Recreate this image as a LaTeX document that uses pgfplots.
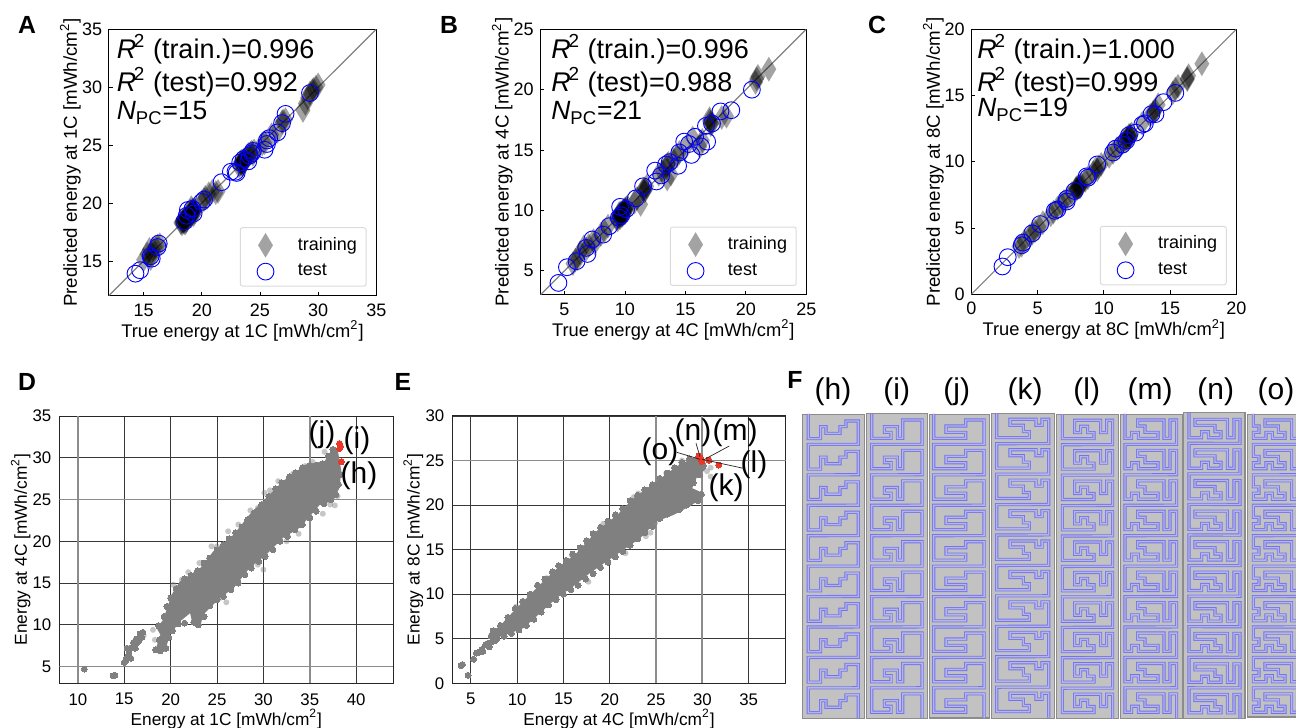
\documentclass[border=0pt]{standalone}
\usepackage{fontspec}
\setmainfont{Liberation Sans}
\usepackage{pgfplots}
\usepackage{pgfplotstable}
\pgfplotsset{compat=1.18}
\definecolor{trace}{RGB}{115,115,242}
\definecolor{tracein}{RGB}{182,182,226}
\definecolor{redpt}{RGB}{235,55,40}
\newcommand\fsz[1]{\fontsize{#1}{#1}\selectfont}
\newcommand\snake[4]{\draw[line width=0.42pt,draw=trace,double=tracein,double distance=0.72pt,line join=miter,line cap=butt] (#1,#2) \foreach \i in {0,...,9}{ -- ({#1},{#2+\i*#3/3}) \foreach \a/\b in {#4}{ -- ({#1+\a/3},{#2+(\i*#3+\b)/3}) } };}
\pgfplotsset{
 top/.style={scale only axis,anchor=south west,
  tick align=inside,xtick pos=bottom,ytick pos=left,major tick length=2pt,
  tick style={black,line width=0.4pt},axis line style={line width=0.5pt},
  /pgf/number format/assume math mode=true,
  tick label style={font=\fsz{9}},
  xticklabel style={yshift=-0.5pt},yticklabel style={xshift=0.2pt},
  x label style={font=\fsz{9.15},at={(axis description cs:0.5,-0.1325)},anchor=center},
  y label style={font=\fsz{9.35},at={(axis description cs:-0.143,0.5)},anchor=center},
  legend cell align=left,
  legend style={font=\fsz{9},draw=black!14,rounded corners=1.2pt,line width=0.5pt,at={(0.964,0.034)},anchor=south east,
    inner xsep=3.6pt,inner ysep=2.6pt,row sep=2.3pt,nodes={inner sep=1pt},
    /tikz/every odd column/.append style={column sep=11pt}},
 },
 train/.style={only marks,mark=diamond*,mark size=6.2pt,mark options={xscale=0.8,fill=black,draw opacity=0,fill opacity=0.36},
   legend image code/.code={\path[draw=none] (-0.5pt,0) -- (0.3cm,0); \path[##1,draw=none] plot coordinates {(0.3cm,0cm)};}},
 test/.style={only marks,mark=o,mark size=4.2pt,mark options={draw=blue,line width=0.45pt,fill=white,fill opacity=0.45},
   legend image code/.code={\path[draw=none] (-0.5pt,0) -- (0.3cm,0); \path[##1,draw=none] plot coordinates {(0.3cm,0cm)};}},
 low/.style={scale only axis,anchor=south west,grid=major,
  major grid style={black!78,line width=0.45pt},axis line style={black!85,line width=0.5pt},
  major tick length=0pt,
  /pgf/number format/assume math mode=true,
  tick label style={font=\fsz{8.4}},
  xticklabel style={yshift=-1.5pt},yticklabel style={xshift=-0.5pt},
  label style={font=\fsz{8.65}},
  x label style={at={(axis description cs:0.5,-0.1336)},anchor=center},
 },
 hl/.style={gray!90,line width=0.9pt,forget plot},
 cloud/.style={fill=gray,draw=none,forget plot},
 edge/.style={only marks,mark=*,mark size=1.5pt,mark options={fill=gray,draw=gray,line width=0pt},forget plot},
 fringe/.style={only marks,mark=*,mark size=1.5pt,mark options={fill=gray,draw opacity=0,fill opacity=0.45},forget plot},
 reds/.style={only marks,mark=*,mark size=1.5pt,mark options={fill=redpt,draw=redpt,line width=0pt},forget plot},
}
% Panel A
\pgfplotstableread{
x y
15 15.1
15.3 15.6
15.5 15.4
15.6 15.2
15.7 15.5
15.8 16
16 16.2
16.2 16.3
16.4 16.4
15.5 16
18.2 18.3
18.3 18.2
18.4 18.4
18.5 18.5
18.6 18.3
18.7 18.7
18.5 18.6
18.8 18.8
18.4 18.5
18.6 18.6
18.3 18.4
18.5 18.3
18.7 18.5
19 19
19 19.1
19.1 18.9
19.2 19.2
19.2 19.3
19.3 19.4
19.3 19
19.4 19.4
19.1 19.6
19.1 19.2
19.2 19.1
19.3 19.3
19.2 19.4
19.4 19.2
19 19.3
20 20.1
20.3 20.5
20.6 20.8
20.9 21
21.2 20.9
21.4 21
20.2 20.3
23.2 23.2
23.3 23.3
23.4 23.6
23.5 23.5
23.6 23.4
23.7 23.6
23.6 23.7
23.5 23.3
23.4 23.4
23.5 23.6
23.6 23.5
23.3 23.5
23.8 23.9
24 24.2
24.2 24.3
24.4 24.2
24.5 24.5
24.3 24.4
25.2 25.1
25.4 25.2
26 25.9
26.5 26.2
26.9 27
27 27.1
27.2 27.2
28.7 28
28.9 28.6
29.1 29.1
29.3 29.5
29.5 29.7
29.6 29.8
29.8 30
30 30.2
}\trainA
\pgfplotstableread{
x y
14.3 13.9
14.7 14.2
15.6 15.4
15.7 15.2
16.2 16.2
16.3 16.5
18.5 18.4
18.7 18.9
18.8 19.4
19.2 19.5
19.3 19.1
20 20.1
20.2 20.3
21.7 21.8
22.5 22.7
22.9 22.7
23 22.6
23.3 23.5
23.6 23.8
24 23.6
24.1 24.1
24.3 24.3
24.4 24.5
25.4 24.6
25.6 25.1
25.6 25.4
25.8 25.6
26.5 26.1
26.9 26.9
27.2 27.7
29.3 29.5
}\testA
% Panel B
\pgfplotstableread{
x y
5.7 5.6
5.9 5.9
6.1 6
6.3 6.5
6.6 7
6.8 6.8
7 7.1
7.4 7.5
7.5 7.3
8 8
8.3 8.3
8.6 8.7
9.3 9.3
9.4 9.2
9.5 9.5
9.5 9.7
9.6 9.4
9.7 9.8
9.8 9.9
9.8 9.6
9.9 10
10 10.1
10 9.8
10.1 10.2
10.2 10.3
9.4 9.4
9.6 9.6
9.7 9.6
9.8 9.8
9.9 9.8
10 10
10.1 10
9.6 9.8
10.8 10.7
11 11
11.3 10.5
11.5 11.7
11.6 11.8
11.8 12
11.7 11.7
11.6 11.6
12.8 13
13.1 13.2
13.4 13.5
13.5 12.6
13.8 13
13.6 13.9
13.5 13.8
14 14.2
14.3 14.5
14.5 14.8
15 15.2
15.6 16
16.2 15.3
16.4 15.8
17 17.4
17.2 17.2
17.1 17.1
17 17.6
17.1 17.3
18 17.7
18.4 17.8
20.8 20.6
21 21.1
20.9 20.9
21.9 21.7
}\trainB
\pgfplotstableread{
x y
4.5 4
5.2 5.3
6 5.8
6.9 6.4
6.8 6.9
7.3 7.6
8.2 8
8.7 8.7
9.5 9.4
9.6 10.3
9.7 9.6
10.1 10.1
10.9 11
11.5 12
12.6 12.4
12.5 13.3
13 12.9
13.4 13.8
13.7 14
14.4 13.7
14.5 14.8
14.9 15.7
15.3 15.5
15.5 14.6
15.8 16.1
16.3 15.3
16.8 15.7
16.7 17
17.2 17.2
17.9 18.2
18.8 18.3
20.5 20
}\testB
% Panel C
\pgfplotstableread{
x y
3.6 3.6
3.8 3.7
4 4
4.4 4.4
4.6 4.6
4.8 4.8
5.1 5.1
5.4 5.4
6 6
6.2 6.2
6.5 6.5
6.8 6.8
7 7
7.3 7.3
7.6 7.6
7.9 7.9
8 8
8.1 8.1
8.2 8.1
8 8.1
7.9 8
8.2 8.2
8.3 8.3
8.6 8.6
8.8 8.8
9.2 9.2
9.4 9.5
9.6 9.6
9.5 9.4
9.8 9.8
10.4 10.4
10.7 10.7
11 11
11.3 11.3
11.5 11.5
11.7 11.6
11.8 11.8
11.9 12
12 12
12.1 12.1
11.7 11.8
11.9 11.9
12 11.9
12.9 12.9
13.5 13.5
13.7 13.7
13.9 13.9
14.1 14.3
13.8 13.8
15.2 15.2
15.4 15.5
15.6 15.7
16.3 16.2
16.3 16.3
16.4 16.5
17.4 17.4
}\trainC
\pgfplotstableread{
x y
2.35 2.1
2.75 2.8
3.8 3.7
3.9 3.9
4.6 4.6
5.2 5.3
6.3 6.3
6.5 6.4
7.2 7.2
7.2 7
7.8 7.8
8.7 8.9
8.8 8.8
9.5 9.8
10.7 10.7
10.9 11
11.4 11.3
11.7 11.6
11.9 12
12.4 12.2
12.9 12.8
13.1 12.9
13.9 13.6
13.6 13.6
14.5 14.5
15.4 15.2
}\testC
% Panel D
\pgfplotstableread{
x y
18.5 9.6
19.2 10.6
20.1 13.6
21 15.2
23.2 16.8
24.6 18.8
26.8 20.8
28.5 23.2
30.3 25.2
32.1 27.2
34.6 29.2
36.6 29.6
37.5 31.2
38 31
38.4 28.4
38.2 26.4
37.5 24.8
36.1 24.4
33.9 21.6
32.1 20.4
30.3 18.4
28.5 16.8
26.8 14.4
25.3 13.2
23.5 11.2
23.2 9.8
22.3 10.4
22.1 11.4
21 10.4
19.9 8.8
19.4 6.8
18.3 6.8
18.9 8.8
}\cloudD
\pgfplotstableread{
x y
18.7 9.9
19.3 11
19.6 12.2
20 13.2
20.6 14.3
21.5 15.5
22.2 15.9
22.9 16.5
23.6 17.4
24.2 18
25 19
25.7 19.6
26.3 20.3
27 21
27.7 21.7
28.3 22.6
29 23.4
29.8 24.4
30.6 25.4
31.3 26.3
32 27
32.8 27.7
33.5 28.2
34.2 28.8
35 29.1
35.7 29.1
36.4 29.3
37 30.2
37.5 31
38.3 28
38.1 26.8
37.8 25.6
37.3 25
36.5 24.5
35.7 23.6
35 22.8
34.2 22
33.4 21.4
32.6 20.6
31.8 20
31 19
30.2 18.2
29.5 17.6
28.7 16.8
28 16
27.3 15
26.5 14.2
25.7 13.4
25 13
24.2 12.3
23.6 11
23 10
22.5 10.3
21.5 10.2
20.8 10.1
20.2 9.3
19.8 8.5
19.5 7.2
18.9 6.9
18.4 7
18.8 8.2
10.7 4.7
13.8 3.9
14 3.95
15 5.5
15.2 5.8
15.4 6.2
15.7 6
15.3 7.2
15.8 7.3
16.2 7.2
16 7.9
16.5 8
16.3 8.3
16.7 8.9
17 9.1
16.9 8.5
15.5 6.5
16.2 7.6
16.6 8.2
}\edgeD
\pgfplotstableread{
x y
28.6 23.7
29.4 24
27.3 22
25 19.4
21.9 16.3
21.2 15.4
31.6 27.2
30.7 26.1
33.2 28.1
36.6 30.7
34.5 29
36.4 23.3
37.7 24.3
38 25.4
37.2 24.4
33.8 20.9
32.5 20
30 16.6
29.4 17.2
26 12.7
25.3 13.2
24.6 13.6
18.1 9.4
18.3 8.2
26.2 21.2
24.4 19.4
23.1 17.4
20.3 14.8
30.1 25.8
35.3 29.5
17.1 8.7
}\fringeD
\pgfplotstableread{
x y
38.4 29.5
38.2 31.7
38.2 31.1
38.3 31.4
}\redD
% Panel E
\pgfplotstableread{
x y
7.2 5.8
8.1 6.4
9.9 8.4
12.1 10.7
14.3 12.9
16.4 14.6
18.6 17.1
20.8 18.9
22.6 20.8
25.1 22.7
27.3 24.4
29.4 25.5
30.3 24.9
30.3 24
29.4 23.1
28.9 21.9
29.95 21.4
29.95 20.8
28.7 19.9
26.9 18.9
25.1 18.2
23.3 16.3
21.5 15
19.7 13.7
17.9 12.4
16.1 10.9
14.3 9.6
12.5 7.9
10.7 6.2
9.2 5.6
7.8 5.1
7.2 5.1
}\cloudE
\pgfplotstableread{
x y
7.4 5.9
8.2 6.5
9 7.4
9.8 8.4
10.6 9.2
11.4 10
12.2 11
13 11.7
13.8 12.5
14.5 13.2
15.3 13.8
16 14.5
16.8 15.2
17.5 16
18.2 16.8
19 17.5
19.8 18.2
20.6 18.9
21.4 19.6
22.2 20.5
23 21.1
23.8 21.7
24.6 22.3
25.4 23
26.2 23.6
27 24.2
27.8 24.8
28.6 25.2
30.1 24.4
29.7 23.4
29 22.5
29.9 21.2
29.5 20.5
28.3 20
27.5 19.5
26.2 19
25.4 18.5
24.6 17.6
23.8 16.9
23 16.2
22.2 15.5
21.4 14.8
20.6 14.2
19.8 13.6
19 13
18.2 12.3
17.4 11.7
16.6 11
15.8 10.5
15 10
14.2 9.4
13.4 8.8
12.6 8
11.8 7.2
11 6.5
10.2 6
9.4 5.6
8.6 5.3
7.8 5
7.2 5.3
3.95 2
4.1 2.1
4.7 0.9
5.3 2.7
5.6 3.4
5.9 3.5
6.3 3.6
6.6 4.3
7 4.1
7.2 4.6
6.2 3.8
6.9 4.5
7.5 5.3
7.6 4.8
}\edgeE
\pgfplotstableread{
x y
30.9 23.2
30.9 24.2
30.5 23.8
21.7 14.6
17.7 11.4
24.4 16.9
22.6 20.9
23.1 21.3
21.4 19.6
24.9 18
19.3 17.9
15.9 14.4
13.2 11.8
26.1 23.6
27.8 25
23.9 16.5
9.9 8.6
}\fringeE
\pgfplotstableread{
x y
29.6 25.5
29.8 25.3
29.95 24.9
30.7 25.05
31.76 24.5
}\redE
\begin{document}
\begin{tikzpicture}
\path[use as bounding box] (0,0) rectangle (648pt,364pt);
% A
\begin{axis}[top,at={(54.35pt,216.15pt)},width=133.8pt,height=133.2pt,xmin=12,xmax=35,ymin=12,ymax=35,
 xtick={15,20,25,30,35},ytick={15,20,25,30,35},
 xlabel={True energy at 1C [mWh/cm\textsuperscript{2}]},ylabel={Predicted energy at 1C [mWh/cm\textsuperscript{2}]}]
\addplot[gray,line width=0.6pt,forget plot] coordinates {(12,12)(35,35)};
\addplot[train] table {\trainA};
\addplot[test] table {\testA};
\legend{training,test}
\end{axis}
% B
\begin{axis}[top,at={(270.15pt,216.5pt)},width=133pt,height=132.85pt,xmin=3,xmax=25,ymin=3,ymax=25,
 xtick={5,10,15,20,25},ytick={5,10,15,20,25},
 xlabel={True energy at 4C [mWh/cm\textsuperscript{2}]},ylabel={Predicted energy at 4C [mWh/cm\textsuperscript{2}]}]
\addplot[gray,line width=0.6pt,forget plot] coordinates {(3,3)(25,25)};
\addplot[train] table {\trainB};
\addplot[test] table {\testB};
\legend{training,test}
\end{axis}
% C
\begin{axis}[top,at={(485.65pt,216.85pt)},width=132.5pt,height=132.5pt,xmin=0,xmax=20,ymin=0,ymax=20,
 xtick={0,5,10,15,20},ytick={0,5,10,15,20},
 xlabel={True energy at 8C [mWh/cm\textsuperscript{2}]},ylabel={Predicted energy at 8C [mWh/cm\textsuperscript{2}]}]
\addplot[gray,line width=0.6pt,forget plot] coordinates {(0,0)(20,20)};
\addplot[train] table {\trainC};
\addplot[test] table {\testC};
\legend{training,test}
\end{axis}
% D
\begin{axis}[low,at={(29.65pt,22.35pt)},width=167pt,height=133.65pt,xmin=8,xmax=44,ymin=3,ymax=35,
 xtick={10,15,20,25,30,35,40},ytick={5,10,15,20,25,30,35},
 xlabel={Energy at 1C [mWh/cm\textsuperscript{2}]},ylabel={Energy at 4C [mWh/cm\textsuperscript{2}]},
 y label style={at={(axis description cs:-0.1156,0.5)},anchor=center}]
\addplot[hl] coordinates {(10,3)(10,35)};
\addplot[hl] coordinates {(35,3)(35,35)};
\addplot[hl] coordinates {(8,25)(44,25)};
\addplot[hl] coordinates {(8,5)(44,5)};
\addplot[fringe] table {\fringeD};
\addplot[cloud] table {\cloudD} --cycle;
\addplot[edge] table {\edgeD};
\addplot[reds] table {\redD};
\end{axis}
% E
\begin{axis}[low,at={(226.15pt,22.35pt)},width=166.7pt,height=133.65pt,xmin=3,xmax=39,ymin=0,ymax=30,
 xtick={5,10,15,20,25,30,35},ytick={0,5,10,15,20,25,30},
 xlabel={Energy at 4C [mWh/cm\textsuperscript{2}]},ylabel={Energy at 8C [mWh/cm\textsuperscript{2}]},
 y label style={at={(axis description cs:-0.117,0.5)},anchor=center}]
\addplot[hl] coordinates {(25,0)(25,30)};
\addplot[hl] coordinates {(30,0)(30,30)};
\addplot[hl] coordinates {(3,25)(39,25)};
\addplot[fringe] table {\fringeE};
\addplot[cloud] table {\cloudE} --cycle;
\addplot[edge] table {\edgeE};
\addplot[reds] table {\redE};
\end{axis}
\begin{scope}[shift={(0pt,364pt)},x=0.5pt,y=-0.5pt]
% panel letters
\foreach \t/\px/\py in {A/27/25,B/449/25,C/877/25,D/27/382,E/403/382,F/795/380}
  \node[font=\fsz{12.4}\bfseries] at (\px,\py) {\t};
% annotation text
\foreach \x/\a/\b/\c in {116.5/(train.)=0.996/(test)=0.992/15,551/(train.)=0.996/(test)=0.988/21,977/(train.)=1.000/(test)=0.999/19}{
  \node[font=\fsz{13.5},anchor=west,inner sep=0pt] at (\x,49) {\textit{R}\hspace{-1.2pt}\textsuperscript{2} \a};
  \node[font=\fsz{13.5},anchor=west,inner sep=0pt] at (\x,82) {\textit{R}\hspace{-1.2pt}\textsuperscript{2} \b};
}
\node[font=\fsz{13.2},anchor=west,inner sep=0pt] at (116.5,113) {\textit{N}\textsubscript{PC}=15};
\node[font=\fsz{13.2},anchor=west,inner sep=0pt] at (551,113) {\textit{N}\textsubscript{PC}=21};
\node[font=\fsz{13.2},anchor=west,inner sep=0pt] at (977,110) {\textit{N}\textsubscript{PC}=19};
% scatter labels
\foreach \t/\px/\py in {(j)/322/435,(i)/357/441,(h)/359/476,(n)/693/433,(m)/735/433,(o)/660/452,(l)/754/465,(k)/726/488}
  \node[font=\fsz{15},inner sep=0pt] at (\px,\py) {\t};
\draw[black!85,line width=0.35pt] (676.7,452.3)--(700,459.3);
\draw[black!85,line width=0.35pt] (743.3,468.3)--(702,459.3);
\draw[black!85,line width=0.35pt] (696,443.3)--(700,456.7);
\draw[black!85,line width=0.35pt] (729.3,446)--(703.3,460);
% panel F
\foreach \l/\r/\tp/\bt in {802.7/864.3/414/718.3,866/927.3/413.7/718.3,929/989.3/414/718,991/1054.3/413.3/718.3,1056.7/1118.7/414.3/718.3,1120/1182.3/414/718.3,1183.3/1245/412.7/718.3,1247.3/1300/414/717}
  \fill[black!45,draw=black!45,line width=0.3pt] (\l,\tp) rectangle (\r,\bt);
\foreach \l/\r/\tp/\bt in {802.7/864.3/414/718.3,866/927.3/413.7/718.3,929/989.3/414/718,991/1054.3/413.3/718.3,1056.7/1118.7/414.3/718.3,1120/1182.3/414/718.3,1183.3/1245/412.7/718.3,1247.3/1300/414/717}
  \fill[black!24] (\l+0.6,\tp+0.6) rectangle (\r-0.6,\bt-0.6);
\snake{808.3}{414}{91.3}{0/74,37/74,37/38,53/38,53/58,95/58,95/38,113/38,113/21,150/21,150/91}
\snake{871.7}{414}{91.3}{0/73,58/73,58/55,38/55,38/38,77/38,77/73,93/73,93/18,151/18,151/91}
\snake{933.7}{414}{91.3}{0/73,96/73,96/55,37/55,37/36,96/36,96/18,151/18,151/91}
\snake{996.7}{413.3}{91.3}{0/73,98/73,98/55,80/55,80/36,40/36,40/18,118/18,118/36,136/36,136/18,156/18,156/91}
\snake{1062.3}{414.3}{91.3}{0/73,95/73,95/55,76/55,76/36,55/36,55/55,37/55,37/18,115/18,115/55,133/55,133/18,151/18,151/91}
\snake{1125}{414}{91.3}{0/73,20/73,20/55,40/55,40/73,99/73,99/55,60/55,60/36,38/36,38/18,117/18,117/73,135/73,135/18,155/18,155/91}
\snake{1189}{412.7}{91.7}{0/75,38/75,38/57,58/57,58/75,96/75,96/57,78/57,78/38,18/38,18/20,115/20,115/75,135/75,135/20,153/20,153/92}
\snake{1253.3}{414}{91.3}{0/36,17/36,17/55,0/55,0/73,38/73,38/55,57/55,57/73,95/73,95/55,75/55,75/36,35/36,35/18,115/18,115/73,132/73,132/18,150/18,150/91}
\foreach \t/\px in {(h)/833,(i)/896.7,(j)/956.7,(k)/1025,(l)/1086.7,(m)/1150,(n)/1215.7,(o)/1276}
  \node[font=\fsz{15},inner sep=0pt] at (\px,391.7) {\t};
\end{scope}
\end{tikzpicture}
\end{document}
